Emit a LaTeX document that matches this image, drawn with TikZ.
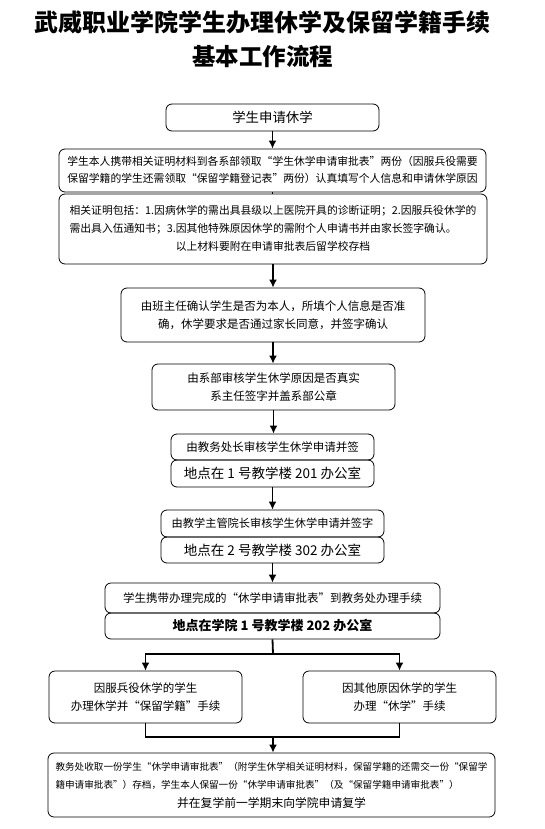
\documentclass[tikz,border=0pt]{standalone}
\usepackage{fontspec}
\newfontfamily\cjk{Noto Sans CJK SC}
\usetikzlibrary{arrows.meta, positioning}
\definecolor{linecolor}{RGB}{0, 0, 0}

\tikzset{
    stepbox/.style={draw=linecolor, rounded corners=6pt, line width=0.8pt, inner sep=0pt, align=center,
        font=\cjk\fontsize{11.5}{18}\selectfont},
    flow/.style={linecolor, line width=1.8pt, -{Latex[length=8pt, width=8pt]}},
    link/.style={linecolor, line width=1.8pt},
}

\begin{document}
\begin{tikzpicture}[x=1pt, y=-1pt]

    \useasboundingbox (0,0) rectangle (544,829);

    % ==========================================
    % --- Title ---
    % ==========================================
    \node[font=\cjk\bfseries\fontsize{24}{28}\selectfont] (title) at (262.5, 22) {武威职业学院学生办理休学及保留学籍手续};
    \node[font=\cjk\bfseries\fontsize{23.5}{28}\selectfont] (subtitle) at (262.5, 57) {基本工作流程};

    % ==========================================
    % --- Application ---
    % ==========================================
    \node[stepbox, minimum width=213, minimum height=27, font=\cjk\fontsize{13.4}{18}\selectfont] (apply) at (272.5, 117.5) {学生申请休学};

    \node[stepbox, minimum width=427, minimum height=43] (carry) at (272.5, 170.5)
        {\fontsize{10.8}{16.5}\selectfont
         \begin{tabular}{@{}l@{}}
         学生本人携带相关证明材料到各系部领取“学生休学申请审批表”两份（因服兵役需要\\
         保留学籍的学生还需领取“保留学籍登记表”两份）认真填写个人信息和申请休学原因
         \end{tabular}};

    \node[stepbox, minimum width=428, minimum height=70] (proof) at (273, 229)
        {\fontsize{10.8}{18}\selectfont
         \begin{tabular}{@{}l@{}}
         相关证明包括：1.因病休学的需出具县级以上医院开具的诊断证明；2.因服兵役休学的\\
         需出具入伍通知书；3.因其他特殊原因休学的需附个人申请书并由家长签字确认。\\
         \multicolumn{1}{@{}c@{}}{以上材料要附在申请审批表后留学校存档}
         \end{tabular}};

    % ==========================================
    % --- Approval chain ---
    % ==========================================
    \node[stepbox, minimum width=304, minimum height=54] (tutor) at (273, 315)
        {由班主任确认学生是否为本人，所填个人信息是否准\\确，休学要求是否通过家长同意，并签字确认};

    \node[stepbox, minimum width=243, minimum height=46] (dept) at (273.5, 387)
        {由系部审核学生休学原因是否真实\\系主任签字并盖系部公章};

    \node[stepbox, minimum width=203, minimum height=26] (dean) at (272.5, 447) {由教务处长审核学生休学申请并签};
    \node[stepbox, minimum width=203, minimum height=27, font=\cjk\fontsize{13.5}{18}\selectfont] (deanroom) at (272.5, 473.5) {地点在~1~号教学楼~201~办公室};

    \node[stepbox, minimum width=223, minimum height=27, font=\cjk\fontsize{11.2}{18}\selectfont] (vice) at (272.5, 523.5) {由教学主管院长审核学生休学申请并签字};
    \node[stepbox, minimum width=223, minimum height=26, font=\cjk\fontsize{13.5}{18}\selectfont] (viceroom) at (272.5, 550) {地点在~2~号教学楼~302~办公室};

    \node[stepbox, minimum width=335, minimum height=30] (office) at (272.5, 598) {学生携带办理完成的“休学申请审批表”到教务处办理手续};
    \node[stepbox, minimum width=335, minimum height=26, font=\cjk\bfseries\fontsize{13}{18}\selectfont] (officeroom) at (272.5, 626) {地点在学院~1~号教学楼~202~办公室};

    % ==========================================
    % --- Two cases ---
    % ==========================================
    \node[stepbox, minimum width=193, minimum height=52] (army) at (145.5, 697)
        {因服兵役休学的学生\\办理休学并“保留学籍”手续};
    \node[stepbox, minimum width=193, minimum height=52] (other) at (399.5, 697)
        {因其他原因休学的学生\\办理“休学”手续};

    \node[stepbox, minimum width=447, minimum height=64] (archive) at (271.5, 785)
        {\fontsize{9.6}{18.5}\selectfont
         \begin{tabular}{@{}l@{}}
         教务处收取一份学生“休学申请审批表”（附学生休学相关证明材料，保留学籍的还需交一份“保留学\\
         籍申请审批表”）存档，学生本人保留一份“休学申请审批表”（及“保留学籍申请审批表”）\\
         \multicolumn{1}{@{}c@{}}{\fontsize{11.8}{18}\selectfont 并在复学前一学期末向学院申请复学}
         \end{tabular}};

    % ==========================================
    % --- Connectors ---
    % ==========================================
    \draw[flow] (apply.south) -- (apply.south |- carry.north);
    \draw[linecolor, line width=0.8pt] (carry.south) -- (carry.south |- proof.north);
    \draw[flow] (proof.south) -- (proof.south |- tutor.north);
    \draw[flow] (tutor.south) -- (tutor.south |- dept.north);
    \draw[flow] (dept.south) -- (dept.south |- dean.north);
    \draw[flow] (deanroom.south) -- (deanroom.south |- vice.north);
    \draw[flow] (viceroom.south) -- (viceroom.south |- office.north);

    \coordinate (split) at (273, 654);
    \draw[link] (officeroom.south) -- (split);
    \draw[flow] (split) -| (army.north);
    \draw[flow] (split) -| (other.north);

    \coordinate (merge) at (273, 737);
    \draw[link] (army.south) |- (merge);
    \draw[link] (other.south) |- (merge);
    \draw[flow] (merge) -- (merge |- archive.north);

\end{tikzpicture}
\end{document}
